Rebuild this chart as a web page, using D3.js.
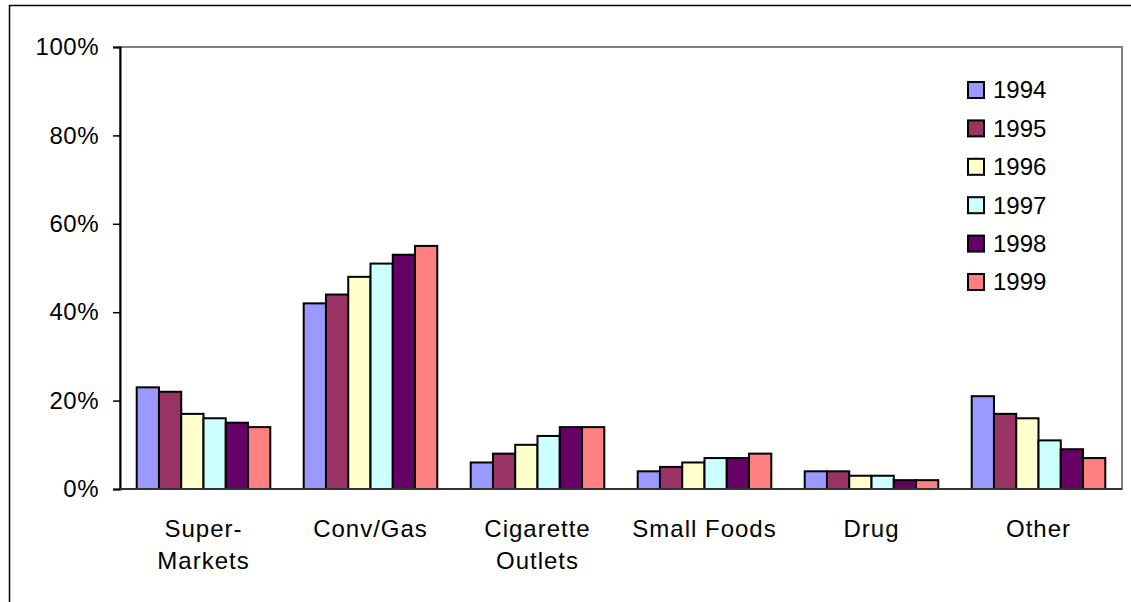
<!DOCTYPE html>
<html>
<head>
<meta charset="utf-8">
<script src="https://cdn.jsdelivr.net/npm/d3@7"></script>
<style>
  html, body { margin: 0; padding: 0; background: #fff; }
  svg { display: block; font-family: "Liberation Sans", Arial, sans-serif; }
</style>
</head>
<body>
<svg id="chart" width="1131" height="602"></svg>
<script>
// Share of sales by outlet type, 1994-1999
const categories = ["Super-\nMarkets", "Conv/Gas", "Cigarette\nOutlets", "Small Foods", "Drug", "Other"];
const years = ["1994", "1995", "1996", "1997", "1998", "1999"];
const v1994 = [0.23, 0.42, 0.06, 0.04, 0.04, 0.21];
const v1995 = [0.22, 0.44, 0.08, 0.05, 0.04, 0.17];
const v1996 = [0.17, 0.48, 0.10, 0.06, 0.03, 0.16];
const v1997 = [0.16, 0.51, 0.12, 0.07, 0.03, 0.11];
const v1998 = [0.15, 0.53, 0.14, 0.07, 0.02, 0.09];
const v1999 = [0.14, 0.55, 0.14, 0.08, 0.02, 0.07];
const yTicks = [0, 0.2, 0.4, 0.6, 0.8, 1.0];
const colors = ["#9999FF", "#993366", "#FFFFCC", "#CCFFFF", "#660066", "#FF8080"];

const seriesValues = [v1994, v1995, v1996, v1997, v1998, v1999];
const rows = categories.map((c, i) => ({
  cat: c,
  vals: years.map((yr, j) => ({ year: yr, value: seriesValues[j][i], color: colors[j] }))
}));

const svg = d3.select("#chart");
const plot = { left: 120, right: 1122, top: 47, bottom: 489 };

// outer frame (left and top edges)
svg.append("path")
  .attr("d", "M9.5,602 L9.5,5.5 L1131,5.5")
  .attr("fill", "none").attr("stroke", "#000").attr("stroke-width", 1.5);

// plot area frame
svg.append("rect")
  .attr("x", plot.left).attr("y", plot.top)
  .attr("width", plot.right - plot.left).attr("height", plot.bottom - plot.top)
  .attr("fill", "none").attr("stroke", "#808080").attr("stroke-width", 2);

const y = d3.scaleLinear().domain([0, 1]).range([plot.bottom, plot.top]);
const x0 = d3.scaleBand().domain(categories).range([plot.left, plot.right]).padding(0);
const bw = x0.bandwidth();
const x1 = d3.scaleBand().domain(years).range([bw * 0.1, bw * 0.9]).padding(0);

// bars
const groups = svg.append("g").selectAll("g").data(rows).join("g")
  .attr("transform", d => `translate(${x0(d.cat)},0)`);
groups.selectAll("rect").data(d => d.vals).join("rect")
  .attr("x", d => x1(d.year))
  .attr("y", d => y(d.value))
  .attr("width", x1.bandwidth())
  .attr("height", d => y(0) - y(d.value))
  .attr("fill", d => d.color)
  .attr("stroke", "#000")
  .attr("stroke-width", 2);

// y axis
const yAxis = d3.axisLeft(y).tickValues(yTicks).tickFormat(d3.format(".0%")).tickSizeOuter(0).tickSize(7).tickPadding(14);
const ya = svg.append("g").attr("transform", `translate(${plot.left},0)`).call(yAxis);
ya.select(".domain").attr("stroke", "#000").attr("stroke-width", 2);
ya.selectAll(".tick line").attr("stroke", "#000").attr("stroke-width", 1.5);
ya.selectAll(".tick text").attr("font-size", 24).attr("fill", "#000")
  .attr("letter-spacing", "0.5px")
  .attr("font-family", "Liberation Sans, Arial, sans-serif");

// x axis baseline
svg.append("line")
  .attr("x1", plot.left).attr("x2", plot.right)
  .attr("y1", y(0)).attr("y2", y(0))
  .attr("stroke", "#333").attr("stroke-width", 2);

// category labels
const labels = svg.append("g").selectAll("text").data(categories).join("text")
  .attr("x", d => x0(d) + bw / 2)
  .attr("y", 537)
  .attr("text-anchor", "middle")
  .attr("font-size", 24)
  .attr("letter-spacing", "1px")
  .attr("fill", "#000");
labels.each(function (d) {
  const lines = d.split("\n");
  d3.select(this).selectAll("tspan").data(lines).join("tspan")
    .attr("x", x0(d) + bw / 2)
    .attr("dy", (l, i) => i === 0 ? 0 : 32)
    .text(l => l);
});

// legend
const legend = svg.append("g").attr("transform", "translate(968,90)");
const li = legend.selectAll("g").data(years).join("g")
  .attr("transform", (d, i) => `translate(0,${i * 38.4})`);
li.append("rect")
  .attr("x", 0).attr("y", -8).attr("width", 16).attr("height", 16)
  .attr("fill", (d, i) => colors[i]).attr("stroke", "#000").attr("stroke-width", 2);
li.append("text")
  .attr("x", 25).attr("y", 0).attr("dy", "0.35em")
  .attr("font-size", 24).attr("fill", "#000")
  .text(d => d);
</script>
</body>
</html>
